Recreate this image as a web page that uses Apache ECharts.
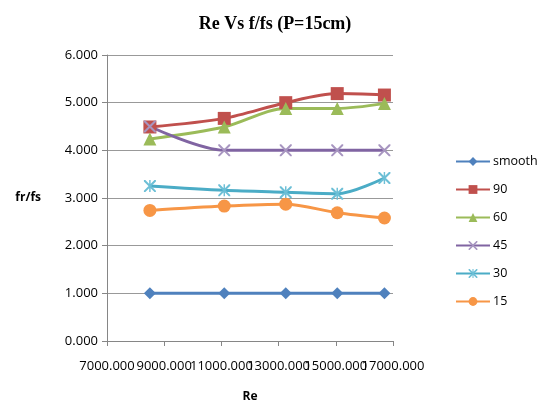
<!DOCTYPE html>
<html>
<head>
<meta charset="utf-8">
<script src="https://cdn.jsdelivr.net/npm/echarts@6/dist/echarts.min.js"></script>
<style>
  html, body { margin: 0; padding: 0; background: #ffffff; }
  #chart { width: 540px; height: 405px; }
</style>
</head>
<body>
<div id="chart"></div>
<script>
// Re values (x) shared by all series
const reValues = [8500, 11100, 13250, 15050, 16700]
const seriesNames = ['smooth', '90', '60', '45', '30', '15']
const smoothVals = [1.0, 1.0, 1.0, 1.0, 1.0]
const p90Vals = [4.49, 4.67, 5.00, 5.19, 5.16]
const p60Vals = [4.24, 4.49, 4.88, 4.88, 4.98]
const p45Vals = [4.50, 4.00, 4.00, 4.00, 4.00]
const p30Vals = [3.25, 3.16, 3.12, 3.09, 3.42]
const p15Vals = [2.74, 2.83, 2.87, 2.69, 2.58]
// x tick labels split over two axes so that overlapping labels all stay visible
const xTicksA = [7000, 11000, 15000]
const xTicksB = [9000, 13000, 17000]

const colors = ['#4F81BD', '#C0504D', '#9BBB59', '#8064A2', '#4BACC6', '#F79646']
// X and asterisk markers (Excel style) as thin filled paths
const xMark = 'path://M0,0L1.2,0L10,8.8L10,10L8.8,10L0,1.2Z M8.8,0L10,0L10,1.2L1.2,10L0,10L0,8.8Z'
const starMark = xMark + ' M4.4,0L5.6,0L5.6,10L4.4,10Z'

function pairs (vals) {
  return reValues.map((x, i) => [x, vals[i]])
}

const chart = echarts.init(document.getElementById('chart'))

function line (name, vals, color, symbol, size, markColor) {
  return {
    name: name,
    type: 'line',
    xAxisIndex: 0,
    smooth: 0.3,
    symbol: symbol,
    symbolSize: size,
    data: pairs(vals),
    lineStyle: { color: color, width: 3 },
    itemStyle: { color: markColor || color },
    emphasis: { disabled: true }
  }
}

function xLabel (ticks) {
  return {
    margin: 19,
    fontFamily: 'Open Sans',
    fontSize: 13,
    color: '#000',
    showMinLabel: true,
    showMaxLabel: true,
    formatter: v => (ticks.indexOf(v) >= 0 ? v.toFixed(3) : '')
  }
}

chart.setOption({
  backgroundColor: '#ffffff',
  animation: false,
  title: {
    text: 'Re Vs f/fs (P=15cm)',
    left: 270,
    top: 10,
    textAlign: 'center',
    textStyle: {
      fontFamily: 'Liberation Serif',
      fontWeight: 'bold',
      fontSize: 18,
      color: '#000'
    }
  },
  grid: { left: 107, right: 147, top: 55, bottom: 64, outerBoundsMode: 'none' },
  legend: {
    orient: 'vertical',
    left: 450,
    top: 150,
    itemWidth: 34,
    itemHeight: 11,
    itemGap: 15,
    data: seriesNames,
    textStyle: { fontFamily: 'Open Sans', fontSize: 12.5, color: '#000', padding: [0, 0, 0, -2] }
  },
  xAxis: [{
    type: 'value',
    min: 7000,
    max: 17000,
    interval: 2000,
    name: 'Re',
    nameLocation: 'middle',
    nameGap: 50,
    nameTextStyle: { fontFamily: 'Open Sans', fontWeight: 'bold', fontSize: 12, color: '#000' },
    axisLine: { show: true, lineStyle: { color: '#868686' } },
    axisTick: { show: true, length: 5, lineStyle: { color: '#868686' } },
    splitLine: { show: false },
    axisLabel: xLabel(xTicksA)
  }, {
    type: 'value',
    position: 'bottom',
    min: 7000,
    max: 17000,
    interval: 2000,
    axisLine: { show: false },
    axisTick: { show: false },
    splitLine: { show: false },
    axisLabel: xLabel(xTicksB)
  }],
  yAxis: {
    type: 'value',
    min: 0,
    max: 6,
    interval: 1,
    name: 'fr/fs',
    nameLocation: 'middle',
    nameRotate: 0,
    nameGap: 66,
    nameTextStyle: { fontFamily: 'Open Sans', fontWeight: 'bold', fontSize: 12, color: '#000' },
    axisLine: { show: true, lineStyle: { color: '#868686' } },
    axisTick: { show: true, length: 5, lineStyle: { color: '#868686' } },
    splitLine: { show: true, lineStyle: { color: '#999999', width: 1 } },
    axisLabel: {
      margin: 9,
      fontFamily: 'Open Sans',
      fontSize: 13,
      color: '#000',
      formatter: v => v.toFixed(3)
    }
  },
  series: [
    line(seriesNames[0], smoothVals, colors[0], 'diamond', 12),
    line(seriesNames[1], p90Vals, colors[1], 'rect', 13),
    line(seriesNames[2], p60Vals, colors[2], 'triangle', 13),
    line(seriesNames[3], p45Vals, colors[3], xMark, 12, '#A795C0'),
    line(seriesNames[4], p30Vals, colors[4], starMark, 12, '#6CBFD6'),
    line(seriesNames[5], p15Vals, colors[5], 'circle', 13)
  ]
})
</script>
</body>
</html>
